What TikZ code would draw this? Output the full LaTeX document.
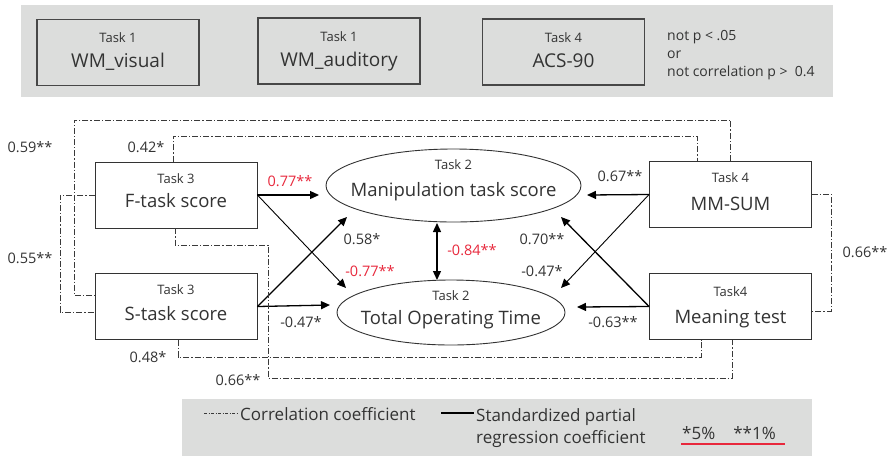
\documentclass[tikz,border=0pt]{standalone}
\usepackage{fontspec}
\setmainfont{Open Sans}
\usetikzlibrary{shapes.geometric,arrows.meta}
\definecolor{ink}{HTML}{333333}
\definecolor{band}{HTML}{DCDDDC}
\definecolor{sigred}{HTML}{E8283C}
\definecolor{corr}{HTML}{3A3A3A}

\begin{document}
\begin{tikzpicture}[x=1pt,y=-1pt,
  varbox/.style={draw=ink, line width=0.9pt, minimum width=162pt, minimum height=66pt, inner sep=0pt},
  topbox/.style={draw=ink!90, line width=1.4pt, minimum width=162pt, minimum height=66pt, inner sep=0pt},
  latent/.style={draw=ink, ellipse, line width=0.9pt, inner sep=0pt},
  tasktxt/.style={anchor=base, text=ink, inner sep=0pt, font=\fontsize{13}{14}\selectfont},
  maintxt/.style={anchor=base, text=ink, inner sep=0pt, font=\fontsize{18.5}{20}\selectfont},
  coef/.style={text=ink, inner sep=0pt, font=\fontsize{14.5}{15}\selectfont},
  sig/.style={coef, text=sigred},
  note/.style={anchor=base west, text=ink, inner sep=0pt, font=\fontsize{14}{15}\selectfont},
  legtxt/.style={anchor=base west, text=ink, inner sep=0pt, font=\fontsize{17}{18}\selectfont},
  reg/.style={draw=black, line width=1.3pt, -{Triangle[length=9pt,width=8pt]}},
  regthin/.style={draw=black, line width=0.9pt, -{Triangle[length=9pt,width=8pt]}},
  corrline/.style={draw=corr, line width=0.8pt, dash pattern=on 6pt off 2pt on 1.2pt off 2pt}
]
\useasboundingbox (0,0) rectangle (890,456);
\fill[white] (0,0) rectangle (890,456);

% ---- excluded measures (top band)
\fill[band] (21,5) rectangle (833,97);
\node[topbox] (W1) at (118,52.5) {};
\node[topbox] (W2) at (339,51) {};
\node[topbox] (ACS) at (563.5,52) {};
\node[tasktxt] (W1t) at (118,42) {Task 1};
\node[maintxt, font=\fontsize{19}{20}\selectfont] (W1m) at (118,67) {WM\_visual};
\node[tasktxt] (W2t) at (339,41) {Task 1};
\node[maintxt, font=\fontsize{19}{20}\selectfont] (W2m) at (339,66) {WM\_auditory};
\node[tasktxt] (ACSt) at (563.5,42) {Task 4};
\node[maintxt, font=\fontsize{19}{20}\selectfont] (ACSm) at (563.5,67) {ACS-90};
\node[note] (n1) at (667,40.5) {not p < .05};
\node[note] (n2) at (667,58) {or};
\node[note] (n3) at (667,76.5) {not correlation p >\ \ 0.4};

% ---- observed variables
\node[varbox] (F) at (176,195) {};
\node[varbox] (S) at (176,306.5) {};
\node[varbox] (MM) at (730.5,194.5) {};
\node[varbox] (MT) at (730.5,306.5) {};
\node[tasktxt] (Ft) at (176,183) {Task 3};
\node[maintxt] (Fm) at (176,207) {F-task score};
\node[tasktxt] (St) at (176,294) {Task 3};
\node[maintxt] (Sm) at (176,320) {S-task score};
\node[tasktxt] (MMt) at (730.5,182) {Task 4};
\node[maintxt] (MMm) at (730.5,210) {MM-SUM};
\node[tasktxt] (MTt) at (730.5,296) {Task4};
\node[maintxt] (MTm) at (730.5,323) {Meaning test};

% ---- outcome variables
\node[latent, minimum width=255pt, minimum height=73pt] (MP) at (453.5,185.5) {};
\node[latent, minimum width=228pt, minimum height=65pt] (TOT) at (451,312.5) {};
\node[tasktxt] (MPt) at (453.5,169) {Task 2};
\node[maintxt] (MPm) at (453.5,196) {Manipulation task score};
\node[tasktxt] (TOTt) at (451,300) {Task 2};
\node[maintxt] (TOTm) at (451,324) {Total Operating Time};

% ---- arrow tips on the outcome ellipses
\coordinate (tFM) at (319,195);
\coordinate (tFT) at (346,288);
\coordinate (tSM) at (347,217);
\coordinate (tST) at (330,305);
\coordinate (tMM) at (587,195);
\coordinate (tMT) at (561,288);
\coordinate (tTM) at (561,217);
\coordinate (tTT) at (577,307);
\coordinate (dTop) at (437,223);
\coordinate (dBot) at (437,280);

% ---- standardized partial regression paths
\draw[reg] (F.east) -- (tFM);
\draw[regthin] (F.east) -- (tFT);
\draw[reg] (S.east) -- (tSM);
\draw[reg] (S.east) -- (tST);
\draw[reg] (MM.west) -- (tMM);
\draw[regthin] (MM.west) -- (tMT);
\draw[reg] (MT.west) -- (tTM);
\draw[reg] (MT.west) -- (tTT);
\draw[draw=black, line width=1.3pt, {Triangle[length=9pt,width=8pt]}-{Triangle[length=9pt,width=8pt]}] (dTop) -- (dBot);

\node[sig] (cFM) at (290,181) {0.77**};
\node[coef] (cSM) at (362,239) {0.58*};
\node[sig] (cFT) at (370,271) {-0.77**};
\node[coef] (cST) at (301,322) {-0.47*};
\node[sig] (cMT) at (472,250) {-0.84**};
\node[coef] (cMM) at (620,176) {0.67**};
\node[coef] (cTM) at (542,239) {0.70**};
\node[coef] (cMMT) at (542,271) {-0.47*};
\node[coef] (cTT) at (613,322) {-0.63**};

% ---- correlation paths
\draw[corrline] (MM.north) -- (730.5,120) -- (74,120) -- (74,295) -- (S.west |- 0,295);
\draw[corrline] (F.north -| 173,0) -- (173,136) -- (697,136) -- (MM.north -| 697,0);
\draw[corrline] (F.west) -- (60,195) -- (60,312) -- (S.west |- 0,312);
\draw[corrline] (F.south -| 175,0) -- (175,245) -- (268,245) -- (268,378) -- (732,378) -- (MT.south -| 732,0);
\draw[corrline] (S.south -| 178,0) -- (178,357) -- (701,357) -- (MT.south -| 701,0);
\draw[corrline] (MM.east |- 0,194) -- (831,194) -- (831,311) -- (MT.east |- 0,311);

\node[coef] (r1) at (30,147) {0.59**};
\node[coef] (r2) at (146,147) {0.42*};
\node[coef] (r3) at (30,258) {0.55**};
\node[coef] (r4) at (148,357) {0.48*};
\node[coef] (r5) at (238,380) {0.66**};
\node[coef] (r6) at (865,252) {0.66**};

% ---- legend
\fill[band] (182,399) rectangle (812,456);
\coordinate (lc1) at (204,413);
\coordinate (lc2) at (238,413);
\draw[corrline, dash pattern=on 3pt off 1.5pt on 1pt off 1.5pt] (lc1) -- (lc2);
\node[legtxt] (lcor) at (240,420) {Correlation coefficient};
\coordinate (ls1) at (441,413);
\coordinate (ls2) at (474,413);
\draw[black, line width=1.5pt] (ls1) -- (ls2);
\node[legtxt] (lreg1) at (476,421) {Standardized partial};
\node[legtxt] (lreg2) at (476,443) {regression coefficient};
\node[legtxt] (lsig) at (682,439) {*5\%\hspace{18pt}**1\%};
\coordinate (u1) at (681,444);
\coordinate (u2) at (785,444);
\draw[sigred, line width=1.2pt] (u1) -- (u2);
\end{tikzpicture}
\end{document}
